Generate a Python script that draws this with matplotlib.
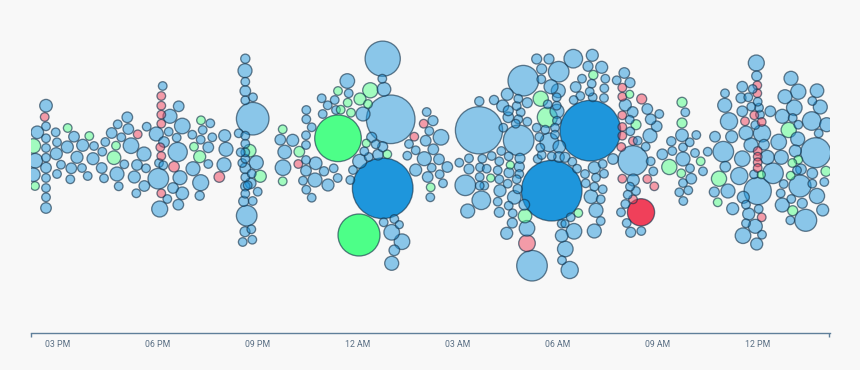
import numpy as np
import matplotlib
matplotlib.use("Agg")
import matplotlib.pyplot as plt
from matplotlib.colors import to_rgba

# swarm readings: (time position, swarm offset, bubble radius)
# time scale runs 100 units per 3 hours, 58 is 03 PM
tick_pos = [58, 158, 258, 358, 458, 558, 658, 758]
tick_labels = ["03 PM", "06 PM", "09 PM", "12 AM", "03 AM", "06 AM", "09 AM", "12 PM"]

blue = [
    (46,105.7,6),(46,126.3,4),(37.3,132.3,6),(46,138.3,4),(55.7,132.3,4),(74,136.7,5),(46,148,4),(57,142.3,4),
    (67.3,147,5.7),(82.7,145.3,5.7),(94,146,4),(56.3,153.7,5.7),(35.3,160.7,7),(46,157.7,4),(77,157.3,5.7),
    (93,158.7,5.7),(102.3,151.7,4),(105.3,142,4),(111.7,133,5),(117.7,124.3,4),(127.3,117.3,5),(128.3,129,5),
    (121.3,137.3,4),(146.7,126.7,4),(131,145.7,7.5),(144,154,6.7),(61,164.7,4),(46,167.7,5),(33.3,174.7,6.5),
    (71.3,168.3,5),(82,168,4),(101.7,168,5),(124.3,164.3,4),(137,165,5),(146,168.3,4),(57,174,4),(46,178,4),
    (70.3,179.3,4),(87.7,176,4),(104,178.3,4),(117,174,6.7),(134.3,177,5.7),(118.7,186.3,4),(144.3,186,5),
    (136.3,193.3,4),(46,188,4),(46,197.3,4),(46,208,5),
    (162.7,86,4),(178.7,106.3,5),(170,116.3,6.7),(182.3,126,7.5),(210.3,123.3,4),(202.7,130,4),(156.3,134,6.7),
    (168.7,131.7,4),(176.7,137.7,4),(192.3,134.7,4),(200.7,139.7,4),(212.3,137.3,4),(224.7,135.7,5.7),(164,142,5),
    (177.7,152,9.3),(208.3,147.3,5),(226,149.3,6.7),(159,163,4),(163.3,165.3,4),(208.3,164,4),(224,164.7,6.7),
    (193,168.7,6.7),(158.3,178.7,10),(180,177.7,6.7),(200.7,182.7,7.7),(173,188,5),(182.3,193.3,6),(167.3,199,4),
    (199.7,195.7,4.3),(178.3,204.7,5),(159.7,209,7.7),
    (245.3,58.7,4.3),(245,70.7,6.7),(245.3,81.7,4),(245.3,91,5),(253,97.3,4),(245.3,100.3,4),(252.7,118.7,16),
    (238.7,133.3,4),(245.3,135.7,4),(245.3,143.7,4),(240.7,152.3,4),(245.3,152.3,4),(245.3,158.7,4),(242.3,163,4),
    (256.3,162.7,6.7),(245.3,168.3,5),(251.7,173.7,4),(245.3,177.3,4),(250.7,183.3,5),(245.3,186.3,4.3),
    (247.7,185.3,4),(257.7,191.7,4),(245.3,193.7,4),(243.7,201.3,4.7),(252.7,201,4),(246.7,215.7,10),(245,231.7,4.7),
    (251.3,229.3,4),(252.3,239.7,4),(242.7,242,4),
    (382.7,58.7,17.3),(382.3,78.7,4),(384,89.3,6.5),(347.3,81,7),(348.7,93.3,4),(321.7,98.3,4),(334.7,100,4),
    (327.7,105.3,4),(306.3,110,4),(336,110,4),(322.7,114,4),(363,114,6.7),(390.7,119.3,24),(306.3,119.3,4),
    (426.7,112,4),(433,120.7,4.7),(311.7,127.3,4),(429.3,131,4),(280.3,139.7,5),(292.7,140.3,5.7),(306,135.3,4),
    (371.7,137.3,4.7),(425.7,140.7,5),(441,137.3,7.5),(306,145,4),(375.7,144.3,4),(382.7,146.7,4.7),(409,144,4),
    (284.7,152,6.5),(364.3,151.3,4),(415.7,150.3,4),(433.3,149.3,5),(378,154.7,5),(368.7,157,4),(407.3,155.7,4),
    (424.3,158.7,6.7),(439,159.3,5),(359.7,161.3,6.7),(306,160,4),(315.7,163.3,6),(283,167.7,7.5),(306,170.7,5),
    (324,171.3,4.3),(333.7,168.3,4),(353,170,4),(415.7,170,5.7),(431.7,167.7,4),(447.3,167,5),(439.7,174.3,4),
    (427.7,177,5),(303,180.7,4),(315,180,6.7),(337.7,178,4),(350.3,180,4),(328,185,5.7),(443,183.3,4),(306.3,189.7,4),
    (430.3,197.3,4),(311.7,197.7,4),(383.7,222.3,4),(394.3,219,4),(399.3,224.7,3.7),(391.7,232.3,7.5),(402,241.7,7.5),
    (394.3,250.3,5),(391.7,263.3,6.7),
    (479,130.3,23.3),(573.3,58.7,9),(592.3,55.3,5.7),(536.7,59,4.7),(549,59,4.7),(588,66.3,4.7),(601.7,67.3,5.7),
    (541.7,69,4.7),(558.7,71.7,10),(523.3,80.7,15),(624.3,73,5),(582,78.7,4),(605.3,78.7,4),(616.7,80.3,4),
    (630,82.7,4.7),(541.3,79.3,4),(591.7,83.7,4),(575.7,87,5),(551,86.7,6.7),(604.3,88.3,4),(507.3,94.3,5.7),
    (558.3,90.7,6.7),(589.7,91.7,4),(518.3,98.7,4),(580.3,96,4),(573.7,100,4),(604,98,4),(592.7,97.3,4),
    (479.3,101.3,4.3),(494,100,4.3),(556.7,97.3,4),(527.3,102.7,4.7),(547.7,104.3,4),(625.3,105,5.7),(502.7,106,5.7),
    (516.7,106,4),(556.7,105.7,4),(508.3,110.7,4.7),(647.3,109,5),(632.7,112,5),(557,111.3,6.7),(520.7,112.3,4),
    (508.3,117.3,5),(659.3,114,4),(650.7,119.3,5),(518.3,119.3,4),(629.7,119.7,4),(527.3,121.7,4),(557,120.7,4),
    (515.7,123.7,4),(656.7,126.3,5),(503.3,127.7,4),(536.7,127.7,4),(555,127.7,4),(518.7,140.3,15),(545.3,129.7,4),
    (630.3,131.3,4),(650,135.7,6.7),(539.3,137,4),(555,134.7,4),(549.3,142.3,9),(637.7,140.7,4),
    (645.7,146.7,4),(559.3,146.7,6),(540.3,147.7,4),(501.3,151,4),(633,160.7,14.7),(662.3,154.3,5),(491.7,156,4),
    (508.7,156.3,4),(541.7,155,4),(551.7,156.3,4),(559,157,5),(565,157.3,4.7),(613,159,5),(469,158.3,4),(482.3,158.7,4),
    (520,158.3,4.7),(537.7,159,4),(459.3,162.7,4),(499.3,161.3,4),(572.3,161.7,4),(650.7,161.3,4),(602.7,164,4),
    (519.3,166.7,4.7),(480,167.3,4),(486.7,168.7,4),(469,169,4.7),(594.3,167.7,5.7),(577,168.7,4),(497.7,170.3,4),
    (509,172.7,4.7),(653.3,171.3,4),(519.3,174,4),(585,174,4),(604,173.7,4),(479.7,177,4),(499.3,179.3,4),(516.7,179.3,4),
    (596,177.7,4),(633.3,180,5.7),(465.3,185.3,10),(507.7,183.7,4),(585.7,183.3,4),(479.7,185.7,4),(484.3,185.7,4),
    (594.3,186.7,4),(517.7,189,4.3),(630,186.7,4),(500,190.7,5.7),(602.7,189.3,4),(636,191,4),(627.7,194.7,4),
    (591,196.7,6.5),(514.3,197.3,6.5),(481.3,200.3,9),(600.7,199.3,4),(497.7,201.7,4),(625.3,204,4),(508.7,205.7,4),
    (524.3,204.7,5),(467.7,211,6.7),(596,210.3,6.7),(621,212.3,4),(499.3,212.3,4.7),(512.7,213.3,4),(570.7,217.3,4),
    (600.7,221,4),(512.3,223,4.7),(626.7,223,4),(561.7,223.7,4),(565,223.7,3.7),(527,228.3,7.5),(574,231.3,7.5),
    (594.3,231,6.7),(506.7,233.3,5.7),(641.3,231,4),(630.7,232.3,4.7),(561.7,235.7,6),(565.3,249,7.5),(562,260.3,4),
    (532,265.7,15),(569.7,270,8.3),
    (685.3,112.3,4),(682,135.3,6),(671.3,141.3,4.3),(689.7,142.3,4),(696.3,135,4),(683,147.3,4),(672.3,151,4),(695,153,4),
    (683,159,6.7),(707.7,151.7,4),(690,168.3,4),(703,171.3,4),(691.3,178.7,5),(683,183,4),(688.3,190.3,4),(679.3,192.3,4),
    (683.3,201,4),(756.3,63,7.7),(756.7,76,4.7),(791,78.3,6.7),(742.3,86.7,5),(752.7,89,4),(725,93.3,4),(741,98,4.7),
    (748.3,97.3,4),(798.3,91.7,7.3),(817,90.7,6.5),(785,96.7,6.7),(812.3,101,4),(757.7,101.7,4),(724.7,105.3,6.7),
    (751.3,106.7,4),(759,107.7,4),(794.3,107.7,7.5),(820.3,107,6.7),(742.3,111.3,5),(770.3,111.3,5),(760,114.7,4),
    (782.3,116.3,6.7),(792.7,118,4),(729,121.3,8.3),(798.3,124.7,4),(811.7,121,9),(826.7,124.7,6.7),(755.3,125,4),
    (762,133.3,8.3),(746,133,6.7),(731.7,136.7,5.7),(715,136.7,5),(818.7,133.3,4),(797.7,139,6.7),(778.7,142,7.5),
    (751,145,6.7),(764,144.7,5),(723.3,151.7,10),(795.3,151,5.7),(815.7,152.7,14.7),(767.3,157.3,6.7),(781.3,157.3,6.7),
    (742.3,158.7,7.5),(725.3,166.7,5),(797,170.3,4),(801,169.3,5),(773,173.3,10),(739.3,176,8.3),(754,174.3,4),
    (812.3,173.3,5),(783.7,184,4),(824.3,182,4),(800,186,10.7),(812.3,183.7,4),(757.7,191,13.3),(728,191,6.7),
    (714.3,192,4.7),(780.7,193.3,4),(817,196,7.3),(743.3,197.3,5.7),(791.3,199,4),(802.3,203.3,4.7),(746,204.7,4),
    (782.3,205,6.7),(732.7,208.7,5.7),(758.7,209,4),(822.7,210,5.7),(748.7,214,5.7),(805.7,220.3,10.7),(790.3,220.3,4),
    (746,223.3,4),(755.3,226.3,6.7),(762,234.7,4),(743,235.7,7.5),(756.7,244,5.7),
]

green = [
    (67.7,128,4),(89.3,136,4),(33.3,146,7),(116,145.7,4),(114,157.7,6.5),(35,186,4),(201,120.3,4),(194,146.7,4),
    (199.7,156.7,5.7),(249.7,150.7,6),(260.3,176.3,5.7),(370.3,90.3,7.3),(338,91,4),(360,99,5.7),(347.7,102.7,4),
    (368,104,4),(340.7,109.7,4),(351,112.7,4),(282.7,129.3,4),(366.3,143.3,3.7),(299.3,151.7,5),(387.3,154.3,4),
    (282.7,181.3,4),(430.7,187.3,4),(593.3,75,4.3),(629.7,94.3,3.7),(540.7,98.7,7.3),(547.3,117.3,9.7),(636,124.7,4.7),
    (669.3,167,7.3),(510.3,165,3.7),(490.7,178,3.7),(525,216,6.5),(578.3,213,4),(682,102.3,4.7),(682,123,4.7),
    (700.7,161.3,4),(681.3,173.3,4),(788.7,130,7.3),(798.3,159.7,4),(792.3,163,4),(719,178.7,7.3),(761.3,174.7,3.7),
    (790.7,175.7,4),(826,171.3,4.7),(717.7,202.3,4),(792.7,210.7,4.7),
]

pink = [
    (44.7,117,4),(137.7,134.3,4),(161.3,96,4),(161.3,105.7,4),(161.3,114.7,4),(161.3,123.7,4),(160.3,147.3,4),
    (161.3,156,4),(174,166.7,5),(219.3,177,5),(161.3,193.3,4),(423.7,123.7,4),(414.3,136.7,4),(298.3,164,4),
    (622.3,87.7,4),(622.3,96.7,4),(641.7,99,4.7),(622.3,115.3,4),(622.3,127,4),(622.3,135.7,4),(633,141,4),
    (621.3,147,4),(622.3,178.7,4),(647.3,179,4),(654.3,186.3,4),(633,199.3,4),(527,243.3,8),(757.3,85.3,4),
    (757.3,93.3,4),(754.3,115.3,4),(745,121.3,4),(761.7,122,4),(757.7,151,4),(757.7,156.7,4),(757.7,162.3,4),
    (757.7,168,4),(761.7,217.3,4),
]

# the few flagged ones, drawn solid
blue_strong = [(382.7,188.3,30),(590.3,130.7,30),(551.7,190.7,30)]
green_strong = [(338,138.3,23),(359,235,20.7)]
red_strong = [(641,212.3,13.3)]

series = [
    (blue, "#1e96dc", 0.5),
    (green, "#4dff88", 0.5),
    (pink, "#f0405a", 0.5),
    (blue_strong, "#1e96dc", 1.0),
    (green_strong, "#4dff88", 1.0),
    (red_strong, "#f0405a", 1.0),
]

xs, ys, rs, colors = [], [], [], []
for rows, color, alpha in series:
    for x, y, r in rows:
        xs.append(x)
        ys.append(y)
        rs.append(r)
        colors.append(to_rgba(color, alpha))
xs = np.array(xs)
ys = np.array(ys)
rs = np.array(rs)
colors = np.array(colors)

# big ones go underneath
order = np.argsort(-rs)

bg = "#f8f8f8"
fig = plt.figure(figsize=(8.6, 3.7), dpi=100, facecolor=bg)
ax = fig.add_axes([31 / 860, 1 - 332.5 / 370, 798.5 / 860, 332.5 / 370])
ax.set_facecolor(bg)

ax.scatter(xs[order], ys[order], s=(2 * (rs[order] + 0.3) * 0.72) ** 2, c=colors[order],
           edgecolors=to_rgba("#14324a", 0.62), linewidths=0.95)

ax.set_xlim(31, 829.5)
ax.set_ylim(332.5, 0)
ax.set_yticks([])
for side in ["top", "left", "right"]:
    ax.spines[side].set_visible(False)
ax.spines["bottom"].set_color("#5f7f9a")
ax.spines["bottom"].set_linewidth(1.0)

ax.set_xticks(tick_pos)
ax.set_xticklabels(tick_labels, fontsize=6.3, family="Roboto", color="#5b7085")
ax.tick_params(axis="x", which="major", length=0, pad=5.3)
# only the two ends of the axis have a tick mark
ax.set_xticks([31.3, 829.1], minor=True)
ax.tick_params(axis="x", which="minor", length=3.2, width=1.0, color="#5f7f9a")

fig.savefig("out.png", dpi=100, facecolor=bg)
